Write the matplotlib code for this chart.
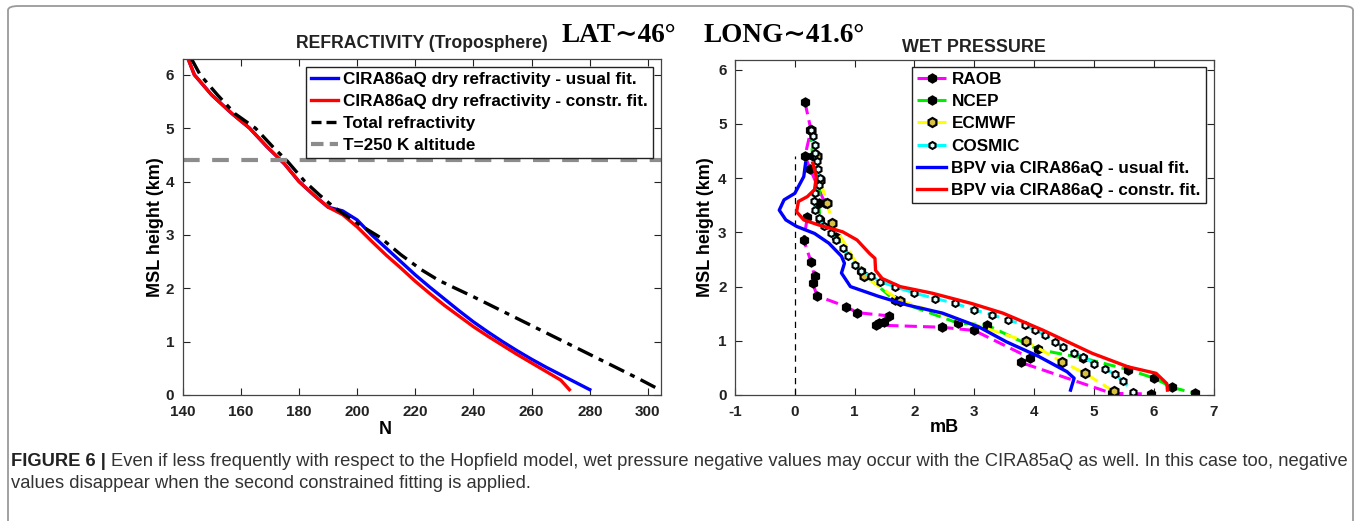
import matplotlib
matplotlib.use("Agg")
import matplotlib.pyplot as plt
from matplotlib.lines import Line2D
from matplotlib.patches import FancyBboxPatch

# ---- left panel: refractivity ----
N_common = [142, 144, 150, 157, 163, 169, 175, 180, 185, 190]
h_common = [6.28, 6.0, 5.62, 5.27, 5.0, 4.65, 4.33, 4.0, 3.75, 3.52]

blue_N = N_common + [195, 200, 205, 210, 215, 220, 225, 230, 235, 240, 245, 250, 255, 260, 265, 270, 275, 280]
blue_h = h_common + [3.45, 3.28, 3.0, 2.75, 2.5, 2.25, 2.02, 1.8, 1.58, 1.37, 1.18, 1.0, 0.83, 0.67, 0.52, 0.38, 0.24, 0.1]

red_N = N_common + [195, 200, 205, 210, 215, 220, 225, 230, 235, 240, 245, 250, 255, 260, 265, 270, 273]
red_h = h_common + [3.38, 3.15, 2.88, 2.62, 2.38, 2.13, 1.9, 1.68, 1.48, 1.28, 1.1, 0.93, 0.76, 0.6, 0.44, 0.28, 0.1]

tot_N = [143, 146, 152, 158, 165, 171, 176, 182, 187, 192, 197, 202, 208, 215, 222, 228, 233,
         240, 250, 260, 270, 280, 290, 297, 304]
tot_h = [6.3, 6.0, 5.62, 5.27, 5.0, 4.65, 4.38, 4.0, 3.75, 3.52, 3.33, 3.15, 2.95, 2.63, 2.35, 2.15, 2.02,
         1.84, 1.57, 1.3, 1.03, 0.76, 0.49, 0.3, 0.1]

t250_height = 4.4

# ---- right panel: wet pressure ----
raob_p = [0.17, 0.27, 0.17, 0.26, 0.50, 0.21, 0.15, 0.27, 0.33, 0.30, 0.37, 0.86, 1.04, 1.57, 1.49,
          1.40, 1.36, 2.46, 3.0, 3.94, 3.78, 5.30, 5.95]
raob_h = [5.40, 4.89, 4.41, 4.16, 3.55, 3.29, 2.86, 2.46, 2.19, 2.07, 1.83, 1.63, 1.52, 1.46, 1.35,
          1.32, 1.29, 1.25, 1.19, 0.68, 0.60, 0.03, 0.02]

ncep_p = [0.26, 0.30, 0.42, 0.40, 0.42, 0.69, 1.10, 1.67, 2.72, 3.21, 4.07, 4.82, 5.57, 6.01, 6.31, 6.69]
ncep_h = [4.89, 4.40, 3.97, 3.54, 3.23, 2.92, 2.28, 1.75, 1.33, 1.29, 0.84, 0.68, 0.47, 0.31, 0.14, 0.03]

ecmwf_p = [0.27, 0.37, 0.42, 0.54, 0.63, 1.16, 1.76, 3.87, 4.47, 4.85, 5.33]
ecmwf_h = [4.89, 4.40, 3.97, 3.54, 3.17, 2.19, 1.74, 0.99, 0.61, 0.40, 0.07]

cosmic_p = [0.27, 0.30, 0.33, 0.34, 0.37, 0.38, 0.42, 0.40, 0.33, 0.32, 0.34, 0.40, 0.48, 0.60, 0.69,
            0.80, 0.89, 1.01, 1.10, 1.28, 1.43, 1.67, 2.0, 2.35, 2.68, 3.0, 3.3, 3.57, 3.85, 4.02,
            4.19, 4.35, 4.49, 4.67, 4.82, 5.0, 5.18, 5.36, 5.48, 5.66]
cosmic_h = [4.89, 4.77, 4.62, 4.46, 4.31, 4.16, 4.0, 3.88, 3.72, 3.57, 3.41, 3.26, 3.11, 2.98, 2.86,
            2.71, 2.56, 2.40, 2.28, 2.19, 2.09, 2.0, 1.88, 1.78, 1.69, 1.57, 1.48, 1.38, 1.29, 1.2,
            1.10, 0.98, 0.89, 0.78, 0.71, 0.58, 0.48, 0.38, 0.26, 0.06]

bpv_usual_p = [0.18, 0.15, 0.0, -0.18, -0.26, -0.15, 0.03, 0.33, 0.57, 0.78, 0.83, 0.78, 0.93, 1.40,
               1.88, 2.47, 3.07, 3.54, 4.08, 4.55, 4.67, 4.61]
bpv_usual_h = [4.28, 4.03, 3.72, 3.60, 3.41, 3.23, 3.11, 2.98, 2.80, 2.56, 2.43, 2.25, 2.0, 1.82,
               1.66, 1.51, 1.26, 0.98, 0.71, 0.43, 0.31, 0.09]

bpv_constr_p = [0.30, 0.36, 0.33, 0.21, 0.06, 0.03, 0.15, 0.39, 0.80, 1.04, 1.25, 1.34, 1.35, 1.46,
                1.76, 2.29, 2.95, 3.48, 4.14, 4.97, 5.57, 6.04, 6.22, 6.23]
bpv_constr_h = [4.28, 4.03, 3.79, 3.66, 3.57, 3.38, 3.23, 3.14, 3.01, 2.86, 2.61, 2.52, 2.30, 2.15,
                2.0, 1.88, 1.69, 1.51, 1.2, 0.77, 0.52, 0.40, 0.21, 0.09]

zero_line_top = 4.4

W, H = 1357, 521
font = "Liberation Sans"
plt.rcParams["font.family"] = [font, "DejaVu Sans"]
plt.rcParams["font.weight"] = "bold"

fig = plt.figure(figsize=(W / 100, H / 100), dpi=100)


def px(x0, y0, x1, y1):
    # pixel box (top-left origin) -> figure fraction rect
    return [x0 / W, 1 - y1 / H, (x1 - x0) / W, (y1 - y0) / H]


def style_axes(ax):
    ax.tick_params(direction="in", top=True, right=True, length=5, width=0.8,
                   labelsize=11, colors="#222222")
    ax.tick_params(axis="x", pad=7)
    ax.tick_params(axis="y", pad=6)
    for s in ax.spines.values():
        s.set_color("#444444")
        s.set_linewidth(0.9)
    for lab in ax.get_xticklabels() + ax.get_yticklabels():
        lab.set_fontweight("bold")


# frame around the whole figure
frame = FancyBboxPatch((8 / W, -0.05), (1353 - 8) / W, (1 - 6 / H) + 0.05,
                       boxstyle="round,pad=0,rounding_size=0.008",
                       transform=fig.transFigure, fill=False, ec="#9a9a9a", lw=1.3)
fig.patches.append(frame)

# left axes
ax1 = fig.add_axes(px(182.7, 59.3, 661, 395))
ax1.plot(blue_N, blue_h, color="#0000ff", lw=2.4)
ax1.plot(red_N, red_h, color="#ff0000", lw=2.4)
ax1.plot(tot_N, tot_h, color="black", lw=2.4, ls=(0, (5, 2, 1.5, 2)))
ax1.axhline(t250_height, color="#8c8c8c", lw=3, ls=(0, (4, 3)))
ax1.set_xlim(140, 304.5)
ax1.set_ylim(0, 6.29)
ax1.set_xticks(range(140, 301, 20))
ax1.set_yticks(range(0, 7))
style_axes(ax1)
ax1.set_ylabel("MSL height (km)", fontsize=13, fontweight="bold")
ax1.yaxis.set_label_coords((164 - 182.7) / 478.3, 0.5)
ax1.set_xlabel("N", fontsize=13, fontweight="bold")
ax1.xaxis.set_label_coords((385 - 182.7) / 478.3, (395 - 430) / 335.7)
ax1.xaxis.label.set_va("center")

leg1_handles = [
    Line2D([], [], color="#0000ff", lw=2.4),
    Line2D([], [], color="#ff0000", lw=2.4),
    Line2D([], [], color="black", lw=2.4, ls=(0, (3, 1.5))),
    Line2D([], [], color="#8c8c8c", lw=3, ls=(0, (3, 1.5))),
]
leg1_labels = ["CIRA86aQ dry refractivity - usual fit.",
               "CIRA86aQ dry refractivity - constr. fit.",
               "Total refractivity",
               "T=250 K altitude"]
leg1 = ax1.legend(leg1_handles, leg1_labels, loc="upper right",
                  bbox_to_anchor=(653 / W, 1 - 67 / H), bbox_transform=fig.transFigure,
                  borderaxespad=0, fancybox=False, framealpha=1, edgecolor="#222222",
                  prop={"family": font, "weight": "bold", "size": 12.3},
                  handlelength=1.6, handletextpad=0.3, labelspacing=0.4, borderpad=0.3)
leg1.get_frame().set_linewidth(1.0)

# right axes
ax2 = fig.add_axes(px(735, 60, 1213.5, 395))
ax2.plot([0, 0], [0, zero_line_top], color="black", lw=0.9, ls=(0, (5, 4)))
ax2.plot(raob_p, raob_h, color="#ff00ff", lw=2.2, ls=(0, (4, 2)), marker="h", ms=6.5,
         mfc="black", mec="black", label="RAOB")
ax2.plot(ncep_p, ncep_h, color="#00ee00", lw=2.2, ls=(0, (4, 2)), marker="h", ms=6.5,
         mfc="black", mec="black", label="NCEP")
ax2.plot(ecmwf_p, ecmwf_h, color="#ffff00", lw=2.2, ls=(0, (4, 2)), marker="h", ms=6.5,
         mfc="#d8c040", mec="black", mew=1.6, label="ECMWF")
ax2.plot(cosmic_p, cosmic_h, color="#00ffff", lw=2.2, ls=(0, (4, 2)), marker="h", ms=5,
         mfc="#e8ffff", mec="black", mew=1.5, label="COSMIC")
ax2.plot(bpv_usual_p, bpv_usual_h, color="#0000ff", lw=2.4, label="BPV via CIRA86aQ - usual fit.")
ax2.plot(bpv_constr_p, bpv_constr_h, color="#ff0000", lw=2.4, label="BPV via CIRA86aQ - constr. fit.")
ax2.set_xlim(-1, 7)
ax2.set_ylim(0, 6.18)
ax2.set_xticks(range(-1, 8))
ax2.set_xticklabels([str(v) for v in range(-1, 8)])
ax2.set_yticks(range(0, 7))
style_axes(ax2)
ax2.set_ylabel("MSL height (km)", fontsize=13, fontweight="bold")
ax2.yaxis.set_label_coords((714 - 735) / 478.5, 0.5)
ax2.set_xlabel("mB", fontsize=13, fontweight="bold")
ax2.xaxis.set_label_coords((944 - 735) / 478.5, (395 - 427) / 335)
ax2.xaxis.label.set_va("center")

leg2 = ax2.legend(loc="upper right", bbox_to_anchor=(1206 / W, 1 - 67 / H),
                  bbox_transform=fig.transFigure, borderaxespad=0, fancybox=False,
                  framealpha=1, edgecolor="#222222", numpoints=1,
                  prop={"family": font, "weight": "bold", "size": 12.3},
                  handlelength=1.7, handletextpad=0.3, labelspacing=0.42, borderpad=0.3)
leg2.get_frame().set_linewidth(1.0)

# titles
fig.text(422 / W, 1 - 43.5 / H, "REFRACTIVITY (Troposphere)", ha="center", va="center",
         fontsize=12.7, fontweight="bold", color="#222222")
fig.text(974 / W, 1 - 48 / H, "WET PRESSURE", ha="center", va="center",
         fontsize=12.9, fontweight="bold", color="#222222")
serif = ["Liberation Serif", "DejaVu Serif"]
fig.text(561.7 / W, 1 - 36 / H, "LAT\u223c46\u00b0", ha="left", va="center",
         fontsize=19.5, fontweight="bold", family=serif, color="black")
fig.text(703 / W, 1 - 36 / H, "LONG\u223c41.6\u00b0", ha="left", va="center",
         fontsize=19.5, fontweight="bold", family=serif, color="black")

# caption
cap_col = "#333333"
t_bold = fig.text(11 / W, 1 - 461 / H, "FIGURE 6 | ", ha="left", va="center", fontsize=13.2,
                  fontweight="bold", color="#222222")
fig.canvas.draw()
bb = t_bold.get_window_extent()
fig.text(bb.x1 / W, 1 - 461 / H,
         "Even if less frequently with respect to the Hopfield model, wet pressure negative values "
         "may occur with the CIRA85aQ as well. In this case too, negative",
         ha="left", va="center", fontsize=13.2, fontweight="normal", color=cap_col)
fig.text(11 / W, 1 - 483 / H,
         "values disappear when the second constrained fitting is applied.",
         ha="left", va="center", fontsize=13.2, fontweight="normal", color=cap_col)

fig.savefig("out.png", dpi=100)
